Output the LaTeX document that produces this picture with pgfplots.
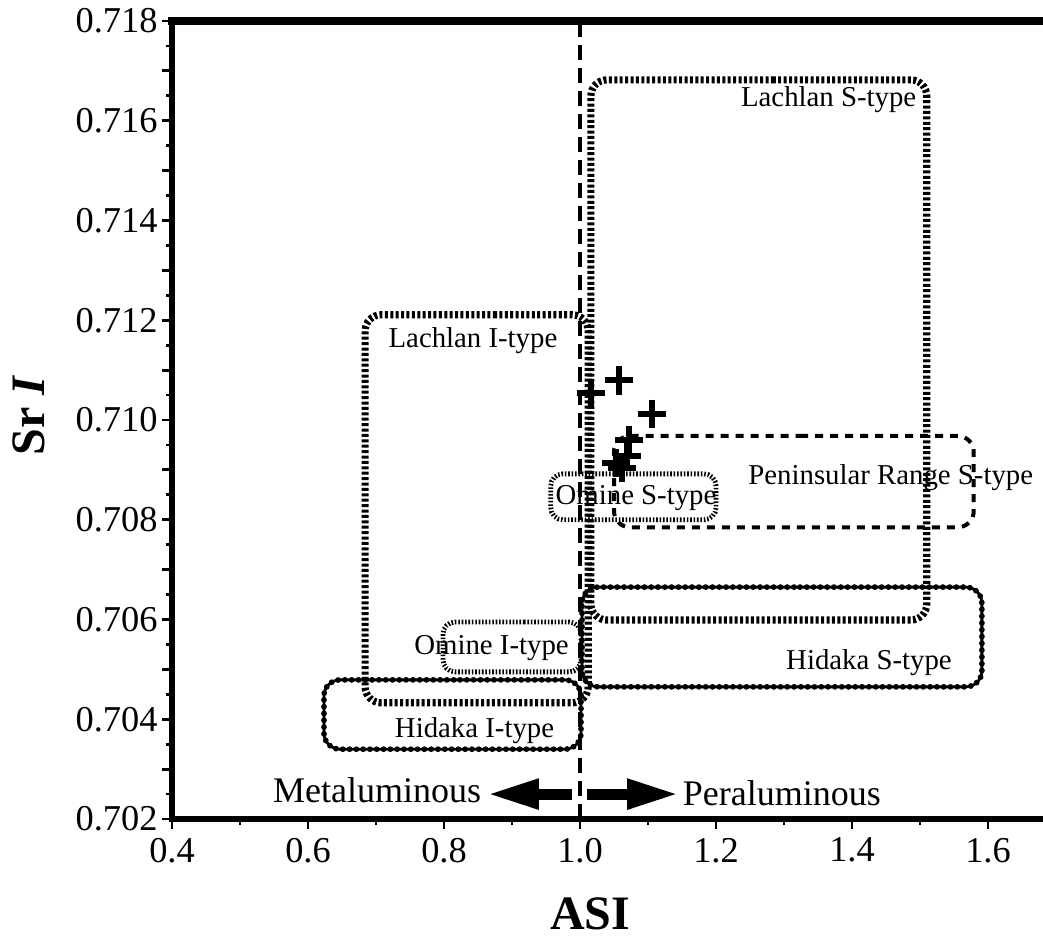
\documentclass[border=0pt]{standalone}
\usepackage{fontspec}
\setmainfont{Liberation Serif}
\usepackage{pgfplots}
\pgfplotsset{compat=1.18}
\usetikzlibrary{arrows.meta}

\tikzset{
  hatchband/.style={draw=black, mark=none, line width=1.8pt, rounded corners=4pt, dash pattern=on 0.75pt off 0.6pt},
  chainband/.style={draw=black, mark=none, line width=0.7pt, rounded corners=4pt,
    postaction={draw=black, line width=1.45pt, dash pattern=on 0pt off 1.7pt, line cap=round}},
  dashband/.style={draw=black, mark=none, line width=1pt, rounded corners=4pt, dash pattern=on 2pt off 1.75pt},
  dotband/.style={draw=black, mark=none, line width=1.2pt, rounded corners=3pt, dash pattern=on 0.4pt off 0.45pt},
  lab/.style={font=\fontsize{7.2}{8}\selectfont, inner sep=0pt},
  big/.style={font=\fontsize{9}{10}\selectfont, inner sep=0pt},
}

\begin{document}
\begin{tikzpicture}
\begin{axis}[
  scale only axis, width=217.75pt, height=199.5pt,
  xmin=0.4, xmax=1.6809, ymin=0.702, ymax=0.718,
  clip=false,
  axis lines=left,
  axis line style={-, line width=1.7pt, line cap=rect},
  tick align=outside,
  xtick={0.4,0.6,0.8,1.0,1.2,1.4,1.6}, minor x tick num=1,
  ytick={0.702,0.704,0.706,0.708,0.710,0.712,0.714,0.716,0.718}, minor y tick num=3,
  extra y ticks={0.703,0.705,0.707,0.709,0.711,0.713,0.715,0.717},
  extra y tick labels={},
  major tick length=2.5pt, minor tick length=1.5pt,
  every tick/.style={black, line width=0.7pt},
  scaled x ticks=false, scaled y ticks=false,
  /pgf/number format/assume math mode=true,
  xticklabel style={/pgf/number format/fixed, /pgf/number format/fixed zerofill, /pgf/number format/precision=1, yshift=1.3pt},
  yticklabel style={/pgf/number format/fixed, /pgf/number format/fixed zerofill, /pgf/number format/precision=3, xshift=2.4pt},
  ticklabel style={font=\fontsize{9.1}{10}\selectfont},
  xlabel={\textbf{ASI}},
  ylabel={\textbf{Sr \textit{I}}},
  xlabel style={font=\fontsize{12}{13}\selectfont, at={(axis description cs:0.48,-0.119)}, anchor=center},
  ylabel style={font=\fontsize{12}{13}\selectfont, at={(axis description cs:-0.1640,0.5063)}, anchor=center},
]
\coordinate (SW) at (rel axis cs:0,0);
\coordinate (NE) at (rel axis cs:1,1);

% Lachlan S-type
\addplot[hatchband] coordinates {(1.26,0.71682) (1.510,0.71682) (1.510,0.70599) (1.016,0.70599) (1.016,0.71682)} --cycle;
% Lachlan I-type
\addplot[hatchband] coordinates {(0.85,0.71211) (1.012,0.71211) (1.012,0.70433) (0.684,0.70433) (0.684,0.71211)} --cycle;
% Hidaka I-type
\addplot[chainband] coordinates {(0.8,0.70479) (1.0015,0.70479) (1.0015,0.70340) (0.6235,0.70340) (0.6235,0.70479)} --cycle;
% Hidaka S-type
\addplot[chainband] coordinates {(1.3,0.70665) (1.591,0.70665) (1.591,0.70465) (1.003,0.70465) (1.003,0.70665)} --cycle;
% Peninsular Range S-type
\addplot[dashband] coordinates {(1.3,0.70968) (1.579,0.70968) (1.579,0.70785) (1.05,0.70785) (1.05,0.70968)} --cycle;
% Omine S-type
\addplot[dotband] coordinates {(1.08,0.70892) (1.200,0.70892) (1.200,0.70800) (0.957,0.70800) (0.957,0.70892)} --cycle;
% Omine I-type
\addplot[dotband] coordinates {(0.9,0.70595) (1.0015,0.70595) (1.0015,0.70495) (0.7985,0.70495) (0.7985,0.70595)} --cycle;

% ASI = 1 boundary
\addplot[black, mark=none, line width=0.8pt, dash pattern=on 3.75pt off 2pt] coordinates {(1.0,0.702) (1.0,0.718)};

% samples
\addplot[black, only marks, mark=+, mark size=3.6pt, mark options={solid, line width=1.35pt, draw=black}] coordinates {
  (1.0162,0.71054) (1.0574,0.71080) (1.1059,0.71012) (1.0721,0.70960)
  (1.0691,0.70928) (1.0529,0.70914) (1.0618,0.70904)
};

% arrows
\addplot[black, mark=none, line width=2.75pt, -{Triangle[width=7pt,length=13pt]}] coordinates {(0.988,0.7025) (0.8632,0.7025)};
\addplot[black, mark=none, line width=2.75pt, -{Triangle[width=7pt,length=13pt]}] coordinates {(1.0103,0.7025) (1.1456,0.7025)};

\node[big, anchor=east] at (axis cs:0.8559,0.70258) {Metaluminous};
\node[big, anchor=west] at (axis cs:1.150,0.70252) {Peraluminous};

\node[lab, anchor=east] at (axis cs:1.4956,0.71642) {Lachlan S-type};
\node[lab] at (axis cs:0.8426,0.71160) {Lachlan I-type};
\node[lab] at (axis cs:1.457,0.70884) {Peninsular Range S-type};
\node[lab] at (axis cs:1.0824,0.70844) {Omine S-type};
\node[lab] at (axis cs:0.8699,0.70543) {Omine I-type};
\node[lab] at (axis cs:1.425,0.70513) {Hidaka S-type};
\node[lab] at (axis cs:0.8449,0.70378) {Hidaka I-type};

\draw[line width=2pt, line cap=rect] (rel axis cs:0,1) -- (rel axis cs:1,1);
\end{axis}
\pgfresetboundingbox
\path ([shift={(-43pt,-29.25pt)}]SW) rectangle ([shift={(0pt,5.25pt)}]NE);
\end{tikzpicture}
\end{document}
